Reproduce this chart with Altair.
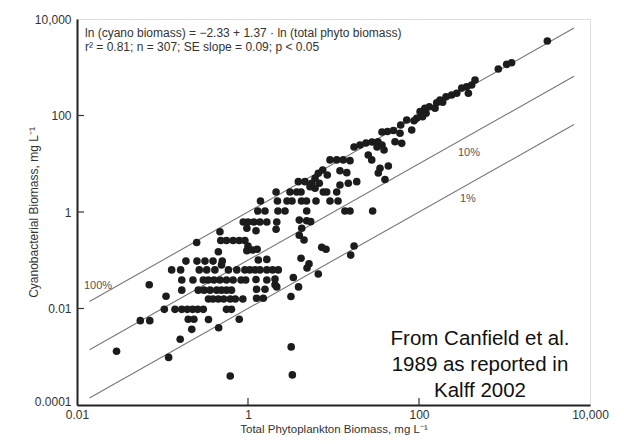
import altair as alt
import pandas as pd

# ---- data (mg/L) ----
low_total = [0.029, 0.118, 0.62, 3.3, 3.2, 0.055, 0.071, 0.20, 0.233, 0.345, 0.79, 0.22, 0.454, 0.161,
             0.105, 0.14, 0.168, 0.195, 0.225, 0.258, 0.30, 0.56, 0.64,
             0.11, 0.345, 0.39, 0.45, 0.52, 0.62, 0.71, 0.87, 1.26, 1.51, 3.18,
             0.168, 0.262, 0.306, 0.36, 0.43, 0.49, 0.56, 0.64, 1.26, 1.58, 2.07, 2.17, 3.9,
             0.168, 0.227, 0.30, 0.343, 0.40, 0.47, 0.56, 0.67, 0.83, 0.94, 1.24, 1.66, 2.07, 3.39,
             0.07,
             0.128, 0.163, 0.269, 0.329, 0.41, 0.59, 0.74, 0.92, 1.05, 1.21, 1.38, 1.66, 1.94, 2.26,
             0.49,
             0.188, 0.253, 0.314, 0.39, 0.50, 1.32, 1.66]
low_cyano = [0.0013, 0.00097, 0.0004, 0.00042, 0.0016, 0.0056, 0.0056, 0.006, 0.006, 0.0059, 0.006, 0.0037, 0.004, 0.0023,
             0.0096, 0.0096, 0.0096, 0.0096, 0.0096, 0.0096, 0.0096, 0.0096, 0.0096,
             0.018, 0.0157, 0.0157, 0.0157, 0.0157, 0.0157, 0.0157, 0.0157, 0.0163, 0.0163, 0.0177,
             0.024, 0.024, 0.024, 0.024, 0.024, 0.024, 0.024, 0.024, 0.025, 0.025, 0.031, 0.028, 0.028,
             0.039, 0.039, 0.039, 0.039, 0.039, 0.039, 0.039, 0.039, 0.039, 0.039, 0.04, 0.039, 0.041, 0.044,
             0.031,
             0.063, 0.063, 0.063, 0.063, 0.063, 0.063, 0.063, 0.063, 0.063, 0.063, 0.063, 0.063, 0.063, 0.063,
             0.08,
             0.096, 0.096, 0.096, 0.096, 0.096, 0.101, 0.104]

mid_total = [0.45, 0.251, 0.48, 0.56, 0.67, 0.79, 0.92, 1.0, 0.97, 1.13, 1.28, 0.47,
             0.88, 1.0, 1.17, 1.38, 1.66, 2.17, 0.97, 1.24, 2.13,
             4.52, 4.17, 5.17, 4.9, 6.64, 7.28, 8.17, 17.4, 15.9, 3.98, 4.25, 3.98, 4.86, 5.41]
mid_cyano = [0.15, 0.233, 0.257, 0.257, 0.257, 0.257, 0.257, 0.197, 0.158, 0.163, 0.169, 0.39,
             0.62, 0.62, 0.62, 0.62, 0.62, 0.62, 0.46, 0.41, 0.44,
             0.263, 0.11, 0.084, 0.069, 0.052, 0.185, 0.169, 0.197, 0.128, 0.33, 0.46, 0.68, 0.66, 0.63]

up_total = [1.30, 1.58, 2.24, 2.71, 4.86, 13.6, 15.6, 28.7,
            1.40, 2.21, 2.86, 3.27, 4.22, 4.83, 6.24, 9.1, 11.3,
            2.13, 3.10, 3.71, 4.17, 7.60, 8.32, 10.9,
            3.88, 4.64, 5.56, 5.31, 6.82, 6.08, 6.08, 6.64, 7.48, 8.46,
            9.1, 10.9, 13.0, 15.6, 11.9, 14.3, 18.7, 14.9, 11.9,
            17.4, 20.4, 24.0, 28.2, 33.1, 36.9, 32.3,
            39.0, 25.5, 28.0,
            43.8, 35.0, 33.4, 40.0,
            52.4, 62.8, 60.0, 50.3, 42.8, 36.9,
            61.1, 71.8, 82.2, 87.5, 94, 103, 110, 121, 117, 132,
            154, 161, 176, 189, 207, 241, 276, 378, 316, 361,
            413, 452, 846, 1060, 1210, 3170]
up_cyano = [1.05, 1.05, 1.05, 1.05, 1.05, 1.05, 1.05, 1.05,
            1.69, 1.69, 1.69, 1.69, 1.69, 1.69, 1.69, 1.69, 1.69,
            2.6, 2.6, 2.6, 2.6, 2.6, 2.6, 2.6,
            4.25, 4.25, 3.94, 3.34, 3.94, 3.1, 4.99, 6.34, 7.42, 5.85,
            12, 12, 12, 11.6, 7.18, 6.53, 4.25, 3.94, 3.63,
            22.2, 24.5, 26.9, 28.2, 28.6, 24.5, 22.2,
            19.3, 15.2, 12,
            8.98, 8.05, 6.43, 4.72,
            28.6, 26.5, 42.8, 48.9, 46.6, 45.5,
            63.5, 80.7, 50, 78, 87.5, 120, 94.5, 111, 141, 152,
            141, 184, 210, 188, 245, 266, 289, 289, 372, 395,
            429, 544, 920, 1150, 1240, 3500]

# reference lines: cyano = fraction * total
line_labels = ["100%", "10%", "1%"]
line_fraction = [1.0, 0.1, 0.01]
line_x_ends = [0.014, 6500]

x_label_values = [0.01, 1, 100, 10000]
y_label_values = [0.0001, 0.01, 1, 100, 10000]
x_tick_values = [1, 100]
y_tick_values = [0.01, 1, 100]

eq_line1 = "ln (cyano biomass) = \u22122.33 + 1.37 \u00b7 ln (total phyto biomass)"
eq_line2 = "r\u00b2 = 0.81; n = 307; SE slope = 0.09; p < 0.05"
source_lines = ["From Canfield et al.", "1989 as reported in", "Kalff 2002"]

# ---- build tables ----
pts = pd.DataFrame({"total": low_total + mid_total + up_total,
                    "cyano": low_cyano + mid_cyano + up_cyano})
rows = []
for lab, f in zip(line_labels, line_fraction):
    for xv in line_x_ends:
        rows.append({"line": lab, "total": xv, "cyano": xv * f})
lines_df = pd.DataFrame(rows)

W, H = 513, 386
FONT = "Liberation Sans"

xscale = alt.Scale(type="log", domain=[0.01, 10000], nice=False)
yscale = alt.Scale(type="log", domain=[0.0001, 10000], nice=False)

xaxis = alt.Axis(values=x_label_values, format=",", ticks=False, grid=False,
                 labelFontSize=12, labelColor="#333", labelPadding=4,
                 labelFlush=False, labelOverlap=False,
                 domainColor="#222", domainWidth=2,
                 title="Total Phytoplankton Biomass, mg L\u207b\u00b9",
                 titleFontSize=11.5, titleFontWeight="normal", titleColor="#333",
                 titleX=W / 2, titleY=24.5, titleAlign="center", titleBaseline="middle")
yaxis = alt.Axis(values=y_label_values, format=",", ticks=False, grid=False,
                 labelFontSize=12, labelColor="#333", labelPadding=6,
                 labelFlush=False, labelOverlap=False,
                 labelBaseline={"condition": {"test": "datum.value < 0.001", "value": "alphabetic"},
                                "value": "middle"},
                 domainColor="#222", domainWidth=2,
                 title="Cyanobacterial Biomass, mg L\u207b\u00b9",
                 titleFontSize=12, titleFontWeight="normal", titleColor="#333",
                 titleX=-44, titleY=H / 2, titleAngle=270,
                 titleAlign="center", titleBaseline="middle")

X = alt.X("total:Q", scale=xscale, axis=xaxis)
Y = alt.Y("cyano:Q", scale=yscale, axis=yaxis)

lines = alt.Chart(lines_df).mark_line(color="#777", strokeWidth=1.1, clip=True).encode(
    x=X, y=Y, detail="line:N")

points = alt.Chart(pts).mark_circle(size=58, color="#1c1c1c", opacity=1).encode(
    x=alt.X("total:Q", scale=xscale), y=alt.Y("cyano:Q", scale=yscale))

xticks = alt.Chart(pd.DataFrame({"total": x_tick_values})).mark_rule(
    color="#333", strokeWidth=1.2).encode(
    x=alt.X("total:Q", scale=xscale), y=alt.value(H), y2=alt.value(H - 7))
yticks = alt.Chart(pd.DataFrame({"cyano": y_tick_values})).mark_rule(
    color="#333", strokeWidth=1.2).encode(
    y=alt.Y("cyano:Q", scale=yscale), x=alt.value(0), x2=alt.value(7))


def label(text, x, y, size=12, color="#333", align="left"):
    return alt.Chart(pd.DataFrame({"t": [text]})).mark_text(
        fontSize=size, color=color, align=align, baseline="middle", font=FONT).encode(
        text="t:N", x=alt.value(x), y=alt.value(y))


eq1 = label(eq_line1, 8, 14)
eq2 = label(eq_line2, 8, 28)
lab100 = label("100%", 7, 267, size=11, color="#555")
lab10 = label("10%", 381, 134, size=11, color="#555")
lab1 = label("1%", 383, 180, size=11, color="#555")

source = alt.Chart(pd.DataFrame({"k": [0]})).mark_text(
    text=source_lines, fontSize=20.5, color="#111", align="center",
    baseline="middle", lineHeight=26, font=FONT).encode(
    x=alt.value(403), y=alt.value(320))

chart = alt.layer(lines, xticks, yticks, points, eq1, eq2, lab100, lab10, lab1, source).properties(
    width=W, height=H,
    autosize=alt.AutoSizeParams(type="none"),
    padding={"left": 69, "top": 11, "right": 26, "bottom": 31},
).configure_view(stroke="#333", strokeWidth=1.5).configure(font=FONT)

chart.save("out.html", embed_options={"renderer": "svg", "actions": False})
